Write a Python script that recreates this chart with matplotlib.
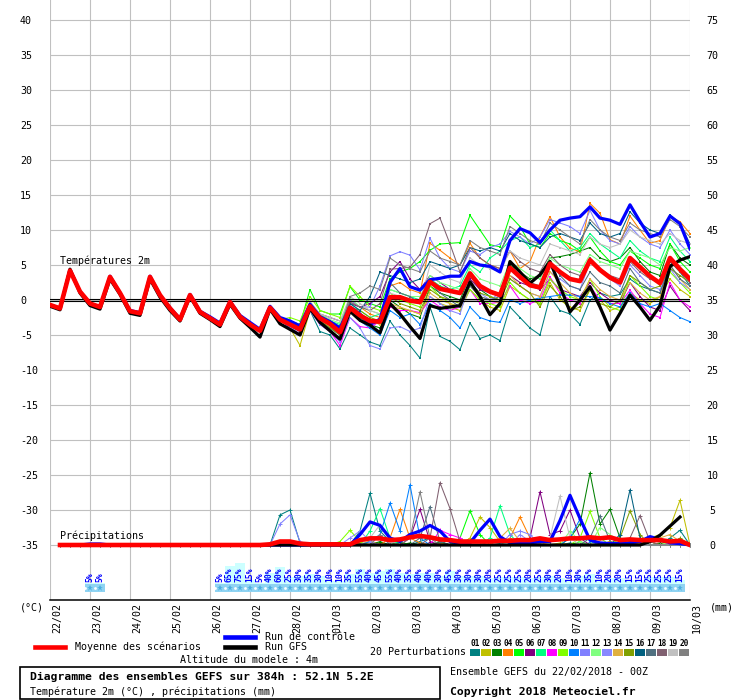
import numpy as np
import matplotlib
matplotlib.use('Agg')
import matplotlib.pyplot as plt
from matplotlib.transforms import ScaledTranslation
from matplotlib.patches import Rectangle
from matplotlib.lines import Line2D

plt.rcParams['font.family'] = ['DejaVu Sans Mono', 'DejaVu Sans']

# ---------------- data ----------------
dates = ['22/02', '23/02', '24/02', '25/02', '26/02', '27/02', '28/02', '01/03', '02/03',
         '03/03', '04/03', '05/03', '06/03', '07/03', '08/03', '09/03', '10/03']

mean_t = [-0.7, -1.2, 4.2, 1.2, -0.5, -1.0, 3.3, 1.0, -1.6, -1.9,
          3.3, 0.7, -1.2, -2.8, 0.7, -1.7, -2.6, -3.5, -0.3, -2.4,
          -3.5, -4.4, -1.1, -2.8, -3.5, -4.2, -0.9, -2.6, -3.4, -4.6,
          -1.1, -2.2, -3.0, -3.1, 0.4, 0.4, -0.1, -0.3, 2.6, 1.6,
          1.3, 1.0, 3.8, 2.0, 1.2, 0.7, 4.6, 3.3, 2.1, 1.8,
          5.2, 4.0, 3.0, 2.7, 5.7, 4.3, 3.2, 2.5, 6.0, 4.7,
          3.4, 2.4, 6.0, 4.4, 3.0]
control_t = [-0.7, -1.2, 4.3, 1.2, -0.5, -1.0, 3.4, 1.0, -1.5, -1.8,
             3.4, 0.7, -1.1, -2.7, 0.8, -1.6, -2.4, -3.3, -0.2, -2.2,
             -3.2, -4.2, -0.9, -2.5, -3.0, -3.7, -0.6, -2.4, -3.1, -4.0,
             -1.0, -2.0, -3.5, -2.8, 2.5, 4.5, 1.9, 1.4, 2.9, 3.1,
             3.4, 3.4, 5.5, 5.0, 4.8, 4.0, 8.5, 10.2, 9.6, 8.2,
             10.0, 11.4, 11.7, 11.9, 13.3, 11.7, 11.4, 10.8, 13.6, 11.2,
             9.0, 9.5, 12.0, 10.9, 7.3]
gfs_t = [-0.9, -1.4, 4.4, 1.0, -0.8, -1.3, 3.0, 0.8, -1.9, -2.2,
         3.0, 0.4, -1.5, -3.0, 0.5, -1.9, -2.8, -3.8, -0.6, -2.6,
         -3.9, -5.3, -1.3, -3.4, -4.2, -5.0, -1.2, -3.2, -4.4, -5.6,
         -1.6, -2.9, -3.6, -4.7, -0.5, -2.0, -3.8, -5.5, -0.8, -1.2,
         -1.0, -0.8, 2.6, 0.5, -2.1, -0.5, 5.5, 4.0, 2.4, 3.6,
         5.5, 2.0, -1.7, 0.0, 1.9, -1.0, -4.3, -1.9, 0.7, -1.0,
         -2.9, -0.8, 4.8, 5.7, 6.2]

# members: common first 24 steps, individual from step 24 on
members_early_t = [-0.7, -1.2, 4.2, 1.2, -0.5, -1.0, 3.3, 1.0, -1.6, -1.9,
                   3.3, 0.7, -1.2, -2.8, 0.7, -1.7, -2.6, -3.5, -0.3, -2.4,
                   -3.5, -4.4, -1.1, -2.8]
t01 = [-3.8, -4.5, -1.5, -4.5, -5.0, -7.0, -4.0, -5.0, -6.0, -6.5, -3.0, -5.0, -6.5, -8.3, -1.0, -5.2, -5.9, -7.1, -3.3, -5.5, -5.0, -5.8, -1.0, -2.5, -4.0, -5.0, 0.5, -1.5, -2.0, -3.5, 0.0, 1.0, 0.5, 0.8, 3.0, 2.0, 1.5, 1.0, 5.5, 4.0, 2.0]
t02 = [-4.0, -6.5, -1.5, -3.0, -3.8, -5.0, -1.0, -2.0, -2.8, -3.5, -1.0, -1.2, -1.5, -2.0, 0.5, -0.5, -1.0, -1.5, 1.5, 0.0, -1.0, -1.5, 2.0, 1.0, 0.0, -0.5, 2.5, 0.0, -1.0, -1.5, 1.5, 0.0, -1.5, -1.0, 1.0, 0.0, -0.5, 0.5, 3.0, 1.5, 0.5]
t03 = [-3.5, -4.5, -1.0, -2.5, -3.5, -5.0, -1.5, -3.0, -3.5, -4.0, 0.0, -1.0, -2.0, -2.5, 2.0, 1.0, 0.5, 0.0, 3.5, 1.5, 0.5, 0.0, 5.0, 4.0, 3.0, 3.5, 6.0, 6.2, 6.5, 7.0, 7.5, 6.0, 5.5, 6.0, 7.5, 5.5, 4.0, 3.5, 8.0, 6.0, 5.0]
t04 = [-3.0, -4.0, -0.5, -2.0, -3.0, -4.0, 0.0, -1.0, -2.0, -2.5, 2.0, 2.5, 1.5, 1.0, 8.1, 7.1, 6.0, 5.0, 8.1, 6.0, 5.0, 4.5, 7.0, 4.5, 5.5, 9.0, 11.9, 9.0, 7.4, 6.9, 13.8, 12.4, 8.6, 8.0, 12.0, 10.0, 8.1, 8.5, 11.9, 11.2, 9.5]
t05 = [-3.0, -3.5, 1.5, -1.5, -2.0, -2.0, 1.9, 0.0, -0.5, -1.0, 3.0, 4.0, 4.5, 5.5, 7.1, 8.0, 8.1, 8.2, 12.1, 10.0, 7.9, 7.6, 12.0, 10.5, 8.0, 7.5, 9.5, 8.5, 8.0, 7.0, 9.0, 7.0, 5.5, 5.0, 7.0, 6.0, 5.0, 4.5, 8.0, 5.5, 4.0]
t06 = [-3.5, -4.5, -0.5, -2.0, -2.5, -3.0, -0.5, -1.0, -0.5, 0.5, 4.0, 5.5, 3.0, 1.5, 3.5, 2.5, 1.5, 1.0, 3.0, 1.5, 1.0, 0.5, 3.5, 2.5, 2.0, 1.5, 3.0, 1.5, 1.0, 0.5, 2.5, 1.0, 0.0, -0.5, 2.5, 0.5, -1.0, -1.5, 2.0, 0.0, -1.5]
t07 = [-3.0, -4.0, -0.5, -2.5, -3.0, -3.5, -0.5, -1.5, -2.5, -2.0, 1.5, 1.0, 0.5, 0.0, 3.0, 2.0, 1.5, 2.0, 5.0, 4.0, 6.0, 7.0, 8.5, 9.0, 7.5, 8.0, 10.0, 8.5, 7.0, 7.5, 9.5, 8.0, 7.0, 6.0, 8.5, 7.0, 6.0, 5.5, 9.0, 7.0, 5.5]
t08 = [-4.0, -4.8, -1.5, -3.5, -4.5, -6.5, -2.5, -3.8, -4.0, -3.0, -1.0, -1.5, -1.5, -1.8, 0.0, -1.0, -1.5, -1.0, 1.5, -0.5, -0.5, -0.3, 2.0, 0.0, -0.5, 0.0, 3.3, 1.0, 0.0, -0.5, 2.0, 0.0, -0.5, -0.5, 1.4, -0.5, -2.0, -2.5, 2.5, 0.0, -1.0]
t09 = [-2.5, -3.0, 0.5, -1.5, -2.0, -2.5, 2.0, 0.5, -1.0, -1.5, 1.0, 0.0, -0.5, -1.0, 2.0, 0.5, -0.5, -1.0, 1.5, 0.0, -0.5, -1.0, 2.5, 1.0, 0.0, -0.5, 3.0, 1.5, 0.5, 0.0, 3.0, 0.5, -1.0, -1.5, 3.5, 2.0, 0.5, 0.0, 4.0, 2.5, 1.0]
t10 = [-4.0, -5.0, -1.0, -3.0, -4.0, -5.0, -1.5, -3.0, -4.0, -5.0, -1.5, -2.5, -2.0, -3.5, -0.5, -1.5, -2.5, -4.0, -1.0, -2.5, -3.0, -3.2, 0.0, -0.5, 0.0, 0.3, 0.5, 0.7, 0.7, 0.5, 0.5, 0.3, -0.5, -1.0, 1.0, -0.5, -1.0, -0.5, -1.5, -2.5, -3.1]
t11 = [-3.5, -4.0, -0.5, -2.5, -3.0, -4.0, 0.0, -1.0, -1.0, 2.0, 6.3, 6.9, 6.4, 4.3, 8.8, 6.0, 4.5, 4.0, 7.0, 6.5, 7.5, 8.0, 9.8, 9.0, 8.0, 9.0, 11.5, 11.0, 10.5, 9.5, 12.8, 10.0, 8.5, 8.0, 10.5, 9.0, 8.0, 7.5, 10.0, 8.0, 6.5]
t12 = [-3.0, -3.8, -0.3, -2.0, -2.8, -3.3, 0.3, -1.0, -1.5, -2.0, 1.5, 1.0, 0.5, 0.5, 3.5, 2.5, 2.0, 1.5, 4.5, 3.0, 2.5, 2.0, 5.5, 4.5, 3.5, 3.0, 6.0, 5.0, 4.5, 4.0, 6.5, 5.5, 5.0, 4.5, 7.0, 6.5, 6.0, 5.0, 7.5, 7.0, 7.5]
t13 = [-3.8, -5.0, -1.5, -3.5, -4.5, -6.0, -2.5, -4.0, -6.5, -7.0, -4.0, -3.8, -4.5, -4.0, 0.5, -0.5, -1.5, -2.0, 2.5, 1.0, 0.0, 1.0, 3.0, 2.0, 1.0, 0.5, 4.0, 3.0, 2.0, 1.5, 5.5, 4.5, 3.0, 2.0, 5.0, 3.5, 2.0, 1.5, 4.5, 2.5, 1.5]
t14 = [-3.2, -4.0, -0.8, -2.8, -3.8, -4.5, -1.0, -2.0, -3.0, -3.5, -0.5, -1.0, -1.5, -2.0, 1.0, 0.0, -0.5, -1.0, 2.0, 0.5, 0.0, -0.5, 3.5, 2.0, 1.0, 0.5, 4.0, 2.5, 1.0, 0.0, 3.0, 1.5, 0.5, 0.0, 2.5, 1.0, 0.0, 0.5, 5.0, 3.0, 1.5]
t15 = [-3.5, -4.5, -1.2, -3.0, -4.0, -5.0, -1.0, -1.5, -2.5, -3.0, 0.5, -0.5, -1.0, -1.5, 1.5, 0.5, 0.0, -0.5, 2.5, 1.0, 0.5, 0.0, 3.0, 2.0, 1.0, -1.0, 2.0, 0.5, -1.5, -1.0, 1.5, -0.5, -1.0, 0.0, 3.5, 2.5, 1.5, 2.0, 4.5, 3.5, 2.5]
t16 = [-3.3, -4.2, -0.7, -2.5, -3.2, -4.0, -0.5, -1.5, 0.5, 4.0, 3.5, 3.0, 2.5, 3.0, 5.5, 5.0, 4.5, 5.0, 7.5, 7.0, 7.5, 7.0, 9.5, 8.5, 8.0, 7.5, 9.0, 9.5, 9.0, 8.5, 11.0, 9.5, 9.0, 9.5, 12.6, 11.0, 10.0, 9.5, 12.1, 11.0, 8.0]
t17 = [-3.6, -4.4, -1.0, -2.8, -3.6, -4.8, -1.2, -2.5, -3.5, -2.5, 2.5, 1.0, 0.5, -0.5, 2.5, 1.0, 0.0, -1.0, 2.0, 0.5, 0.0, 0.5, 4.5, 3.0, 2.5, 2.0, 5.5, 3.5, 2.0, 1.5, 4.0, 2.5, 2.0, 1.0, 4.5, 2.5, 1.5, 1.0, 5.0, 3.0, 2.0]
t18 = [-3.4, -4.0, -0.6, -2.2, -3.0, -3.8, -0.3, -1.0, -1.5, -0.5, 4.4, 4.5, 4.7, 6.5, 10.9, 11.7, 8.0, 4.0, 7.5, 6.0, 5.0, 4.5, 7.0, 5.5, 4.5, 4.0, 6.5, 5.0, 4.0, 3.5, 6.0, 4.5, 3.5, 3.0, 5.5, 4.0, 3.0, 2.5, 6.0, 4.0, 2.5]
t19 = [-3.0, -3.5, -0.2, -2.0, -2.5, -3.0, 0.5, -0.5, -1.5, -2.0, 1.0, 0.5, 0.0, -0.5, 5.0, 4.0, 3.0, 2.5, 6.0, 5.0, 4.5, 4.0, 7.0, 6.0, 5.5, 5.0, 8.0, 7.5, 7.0, 6.5, 9.0, 8.0, 7.5, 8.0, 10.0, 9.0, 8.5, 8.0, 9.5, 8.5, 8.0]
t20 = [-3.5, -4.2, -0.8, -2.4, -3.2, -4.2, 0.5, 1.0, 2.0, 1.5, 6.0, 5.0, 4.5, 4.0, 7.0, 6.0, 5.5, 5.0, 8.5, 7.5, 7.0, 6.5, 10.5, 9.5, 8.5, 8.0, 11.0, 10.0, 9.0, 8.0, 11.5, 10.0, 9.0, 8.5, 11.0, 10.0, 9.5, 9.0, 11.5, 10.5, 9.0]

# precipitation (mm), from step 1
mean_p = [0.0] * 21 + [0.1, 0.5, 0.5, 0.2, 0.1, 0.1, 0.1, 0.1, 0.1, 0.7, 0.95, 0.95, 0.7, 0.8, 1.1,
                       1.3, 1.1, 0.8, 0.7, 0.5, 0.5, 0.5, 0.5, 0.6, 0.6, 0.7, 0.7, 0.95, 0.7, 0.8,
                       0.95, 0.95, 1.1, 0.95, 1.1, 0.7, 0.8, 0.7, 0.7, 0.7, 0.5, 0.6, 0.0]
control_p = [0.0, 0.0, 0.0, 0.15, 0.15] + [0.0] * 25 + [1.5, 3.3, 2.8, 1.0, 0.5, 1.5, 2.0, 2.8, 2.0, 0.5,
                                                     0.2, 0.3, 2.1, 3.7, 1.2, 0.3, 0.2, 0.3, 0.5, 0.5,
                                                     3.5, 7.1, 3.8, 0.7, 0.3, 0.2, 0.2, 0.3, 0.5, 1.2,
                                                     0.8, 0.3, 0.2, 0.0]
gfs_p = [0.0] * 59 + [0.5, 1.4, 2.7, 4.0]

members_early_p = [0.0] * 20
p01 = [0, 0, 4.3, 5.0, 0.3, 0, 0, 0, 0, 0, 2.0, 7.4, 2.0, 0.5, 0, 0, 0.5, 1.0, 0.5, 0, 0, 0, 0, 0.5, 0.2, 0, 0, 0, 0, 0, 0, 0.3, 0, 0, 0, 0, 0, 0, 0, 0.5, 0, 1.0, 2.1, 0]
p02 = [0, 0, 0, 0, 0, 0, 0, 0, 0, 0, 0, 0.5, 0.2, 0, 0, 0, 0, 0, 0.3, 0, 0, 1.0, 4.0, 2.5, 0.5, 0.3, 0, 0, 0, 0, 0.3, 0, 0, 0, 0, 0.5, 0, 0.5, 0.5, 1.0, 1.5, 2.5, 6.4, 0]
p03 = [0, 0, 0, 0, 0, 0, 0, 0, 0, 0, 0, 0, 0.5, 0, 0, 0.3, 0, 0, 0.5, 0, 0, 0, 0, 0, 0, 0, 0.3, 0, 0, 0, 0, 1.0, 3.0, 10.3, 3.0, 5.1, 1.0, 0.5, 0, 0, 0.3, 0, 0, 0]
p04 = [0, 0, 0, 0, 0, 0, 0, 0, 0, 0, 0.3, 0.5, 0, 1.0, 5.1, 1.0, 0.3, 0, 0, 0, 0, 0, 0, 0, 0, 1.0, 4.0, 1.0, 0.3, 0, 0, 0, 0, 0, 0, 0.5, 0, 0, 0.3, 0.5, 0, 0.5, 0, 0]
p05 = [0, 0, 0, 0, 0, 0, 0, 0, 0, 0, 0, 0, 0, 0, 0.5, 0, 0, 0, 0, 0, 1.0, 4.9, 1.5, 0, 0, 0, 0.5, 0, 0, 0, 0, 0, 0.5, 0, 0, 0, 0, 0, 0, 0, 0, 0, 0, 0]
p06 = [0, 0, 0, 0, 0, 0, 0, 0, 0, 0, 0, 0, 0, 0, 0, 1.0, 5.1, 0.5, 0, 0, 0, 0, 0, 0, 0, 0, 0, 1.0, 7.6, 1.5, 2.0, 5.0, 1.0, 0, 0, 0, 0, 0, 0, 0, 0, 0, 0, 0]
p07 = [0, 0, 0, 0, 0, 0, 0, 0, 0, 0, 0, 2.0, 5.2, 1.0, 0, 0, 0, 0, 0, 0, 0, 0, 0, 1.0, 5.6, 1.5, 0, 0, 0, 0, 0, 0, 0, 0, 0, 0, 0, 0, 0, 0, 0, 0, 0, 0]
p08 = [0, 0, 0, 0, 0, 0, 0, 0, 0, 0, 0, 0, 0, 0, 0, 0, 0, 0, 2.1, 1.5, 1.0, 0, 0, 0, 0, 0, 0, 0.5, 0, 0, 0, 0, 0, 0, 0, 0, 0, 0, 0, 0, 0, 0, 0, 0]
p09 = [0, 0, 0, 0, 0, 0, 0, 0, 0.5, 2.1, 0.5, 0, 0, 0, 0, 0, 0, 0, 0, 0, 0, 0, 0, 0, 0, 0, 0, 0, 0, 0, 0, 0, 1.0, 4.8, 1.0, 0, 0, 0, 0, 0, 0, 0, 0, 0]
p10 = [0, 0, 0, 0, 0, 0, 0, 0, 0, 0, 0, 0.5, 1.5, 6.0, 2.0, 8.6, 1.0, 0, 0, 0, 0, 0, 0, 0, 0, 0, 0, 0, 0, 0, 0, 1.0, 3.7, 0.5, 0, 0, 0, 0, 0, 0, 0, 0, 0, 0]
p11 = [0, 0, 3.0, 4.3, 0.5, 0, 0, 0, 0, 0, 0, 0, 1.5, 0, 0, 0, 0, 0, 0, 0, 0, 0, 0, 0, 0, 1.5, 2.0, 1.5, 0, 0, 0, 0, 0, 0, 0, 0, 0, 0, 0, 0, 0, 0, 0, 0]
p12 = [0, 0, 0, 0, 0, 0, 0, 0, 0, 0, 0, 0, 0, 0, 0, 0, 0, 0, 0, 0, 0, 0, 0, 0, 0, 0, 0, 0, 0, 0, 0, 2.0, 0.5, 0, 2.5, 1.5, 0, 0, 0, 0, 0, 0.5, 0, 0]
p13 = [0, 0, 0, 0, 0, 0, 0, 0, 0, 1.0, 2.0, 0.5, 0, 0, 0, 0, 0, 0, 0, 0, 0, 0, 0, 0, 0, 0, 1.5, 0.5, 0, 0, 0, 0, 0, 0, 0, 0, 0, 0, 0, 0, 0, 0, 0, 0]
p14 = [0, 0, 0, 0, 0, 0, 0, 0, 0, 0, 0, 0, 0, 0, 0, 0, 0, 0, 0, 0, 0, 0, 0, 0, 1.0, 2.4, 0.5, 0, 0, 0, 0, 0, 0, 0, 0, 0, 0, 0, 0, 0.5, 1.0, 1.5, 0.5, 0]
p15 = [0, 0, 0, 0, 0, 0, 0, 0, 0, 0, 0, 0, 0, 0, 0, 0, 0, 0, 0, 0, 0, 0, 0, 0, 0, 0, 0, 0, 0, 0, 0, 0, 0, 0, 0, 0, 1.0, 4.9, 1.5, 0, 0, 0, 1.0, 0]
p16 = [0, 0, 0, 0, 0, 0, 0, 0, 0, 0, 0, 0, 0, 0, 0, 0, 0, 0, 0, 0, 0, 0, 0, 0, 0, 0, 0, 0, 0, 0, 0, 0, 0, 0, 0, 0, 1.5, 7.9, 1.0, 0, 0, 0, 0, 0]
p17 = [0, 0, 0, 0, 0, 0, 0, 0, 0, 0, 0, 0, 0, 0, 0, 0, 1.0, 5.5, 0.5, 0, 0, 0, 0, 0, 0, 0, 0, 0, 0, 0, 0, 0, 0, 1.0, 4.2, 0.5, 0, 0, 0, 0, 0, 0, 0, 0]
p18 = [0, 0, 0, 0, 0, 0, 0, 0, 0, 0, 0, 0, 0, 0, 0, 0, 0, 1.0, 8.9, 5.2, 0.5, 0, 0, 0, 0, 0, 0, 0, 0, 0, 0, 0, 0, 0, 0, 0, 0, 1.0, 4.2, 0.5, 0, 0, 0, 0]
p19 = [0, 0, 0, 0, 0, 0, 0, 0, 0, 0, 0, 1.0, 2.9, 0.5, 0, 0, 0, 0, 0, 0, 0, 0, 0, 0, 0, 0, 0, 0, 0, 1.0, 7.0, 1.0, 0, 0, 0, 0, 0, 0, 0, 0, 0, 0, 0, 0]
p20 = [0, 0, 0, 0, 0, 0, 0, 0, 0, 0, 0, 0, 1.5, 0, 0, 1.0, 7.6, 1.0, 0, 0, 0, 0, 0, 0, 0, 0, 0, 0, 0, 0, 0, 0, 0, 0, 0, 0, 0, 0, 0, 0, 0, 0, 0, 0]

member_colors = ['#008080', '#c0c000', '#008000', '#ff8000', '#00ff00', '#800080', '#00ff80',
                 '#ff00ff', '#80ff00', '#0080ff', '#8080ff', '#80ff80', '#8888ff', '#e0b040',
                 '#80a000', '#006080', '#507080', '#806070', '#c0c0c0', '#808080']
member_labels = ['01', '02', '03', '04', '05', '06', '07', '08', '09', '10',
                 '11', '12', '13', '14', '15', '16', '17', '18', '19', '20']

snow_steps = [4, 5] + list(range(17, 64))
snow_pct = [5, 5,
            5, 65, 75, 15, 5, 40, 60, 25, 30, 35, 30, 10, 10, 35, 55, 40,
            45, 55, 40, 35, 40, 40, 30, 45, 30, 30, 30, 20, 25, 25, 25, 20,
            25, 30, 20, 10, 30, 35, 10, 20, 20, 15, 15, 25, 25, 25, 15]

temps_late = [t01, t02, t03, t04, t05, t06, t07, t08, t09, t10,
              t11, t12, t13, t14, t15, t16, t17, t18, t19, t20]
precs_late = [p01, p02, p03, p04, p05, p06, p07, p08, p09, p10,
              p11, p12, p13, p14, p15, p16, p17, p18, p19, p20]

# ---------------- figure ----------------
W, H = 740, 700
fig = plt.figure(figsize=(W / 100, H / 100), dpi=100)
fig.patch.set_facecolor('white')


def fx(px):
    return px / W


def fy(py):
    return 1 - py / H


ax = fig.add_axes([fx(50), fy(600), fx(690) - fx(50), fy(0) - fy(600)])
ax.set_xlim(0, 64)
ax.set_ylim(-300 / 7, 300 / 7)
ax2 = ax.twinx()
ax2.set_ylim(-300 / 7 + 35, 300 / 7 + 35)

for a in (ax, ax2):
    for s in ('left', 'right', 'top'):
        a.spines[s].set_visible(False)
ax.spines['bottom'].set_color('black')
ax.spines['bottom'].set_linewidth(1.1)
ax2.spines['bottom'].set_visible(False)

FS = 7.2
ax.set_yticks(np.arange(-35, 41, 5))
ax.set_yticklabels([str(v) for v in range(-35, 41, 5)])
ax.tick_params(axis='y', length=0, pad=30 * 0.72, labelsize=FS)
for t in ax.get_yticklabels():
    t.set_horizontalalignment('left')
ax2.set_yticks(np.arange(0, 76, 5))
ax2.set_yticklabels([str(v) for v in range(0, 76, 5)])
ax2.tick_params(axis='y', length=0, pad=22.5 * 0.72, labelsize=FS)
for t in ax2.get_yticklabels():
    t.set_horizontalalignment('center')

ax.set_xticks(np.arange(0, 65, 4))
ax.set_xticklabels(dates, rotation=90, fontsize=FS, va='top', ha='center')
ax.tick_params(axis='x', length=0, pad=2)
off = ScaledTranslation(7 / 100, 0, fig.dpi_scale_trans)
for t in ax.get_xticklabels():
    t.set_transform(t.get_transform() + off)

ax.grid(True, color='#c0c0c0', linewidth=0.8, zorder=0)
ax.set_axisbelow(True)

steps = np.arange(65)

# members temperatures
for vals_late, c in zip(temps_late, member_colors):
    vals = members_early_t + vals_late
    ax.plot(steps[:len(vals)], vals, color=c, lw=0.75, marker='s', ms=1.6, mew=0, zorder=2)

ax.axhline(0.2, color='black', lw=0.8, zorder=3)
ax.axhline(-0.2, color='black', lw=0.8, zorder=3)

ax.plot(steps, control_t, color='#0000ff', lw=2.3, zorder=4, solid_joinstyle='round')
ax.plot(steps, gfs_t, color='black', lw=2.3, zorder=5, solid_joinstyle='round')
ax.plot(steps, mean_t, color='#ff0000', lw=3.3, zorder=6, solid_joinstyle='round')

# precipitation (right axis)
for vals_late, c in zip(precs_late, member_colors):
    vals = members_early_p + vals_late
    xs = np.arange(1, 1 + len(vals))
    ax2.plot(xs, vals, color=c, lw=0.75, marker='+', ms=3.2, mew=0.7, zorder=2)
ax2.plot(np.arange(1, 1 + len(control_p)), control_p, color='#0000ff', lw=2.3, zorder=4)
ax2.plot(np.arange(1, 1 + len(gfs_p)), gfs_p, color='black', lw=2.3, zorder=5)
ax2.plot(np.arange(1, 1 + len(mean_p)), mean_p, color='#ff0000', lw=3.3, zorder=6)

# snow probability row
bar_bottom = (300 - 584) / 7
for k, p in zip(snow_steps, snow_pct):
    h = p * 0.28 / 7
    ax.add_patch(Rectangle((k - 0.5, bar_bottom), 1.0, h, facecolor='#ccffff',
                           edgecolor='none', zorder=1))
    ax.text(k - 0.05, (300 - 582) / 7, f'{p}%', rotation=90, color='#0000ff',
            fontsize=5.8, fontweight='bold', ha='center', va='bottom', zorder=3)
    ax.add_patch(Rectangle((k - 0.5, (300 - 592) / 7), 1.0, 8 / 7, facecolor='#8fd3f2',
                           edgecolor='none', zorder=1))
    ax.plot([k], [(300 - 588) / 7], marker='*', ms=5, color='#4aaee0', mew=0, zorder=2)
    ax.plot([k - 0.5], [(300 - 588) / 7], marker='o', ms=2, color='white', mew=0, zorder=2)

ax.text(1, (300 - 261) / 7, 'Températures 2m', fontsize=FS, ha='left', va='center', zorder=8)
ax.text(1, (300 - 536) / 7, 'Précipitations', fontsize=FS, ha='left', va='center', zorder=8)

# ---------------- texts around ----------------
fig.text(fx(20), fy(607), '(°C)', fontsize=FS, ha='left', va='center')
fig.text(fx(710), fy(607), '(mm)', fontsize=FS, ha='left', va='center')

fig.add_artist(Line2D([fx(35), fx(65)], [fy(647), fy(647)], color='#ff0000', lw=3.3))
fig.text(fx(75), fy(647), 'Moyenne des scénarios', fontsize=FS, ha='left', va='center')
fig.add_artist(Line2D([fx(225), fx(255)], [fy(637), fy(637)], color='#0000ff', lw=3.3))
fig.text(fx(265), fy(637), 'Run de contrôle', fontsize=FS, ha='left', va='center')
fig.add_artist(Line2D([fx(225), fx(255)], [fy(647), fy(647)], color='black', lw=3.3))
fig.text(fx(265), fy(647), 'Run GFS', fontsize=FS, ha='left', va='center')
fig.text(fx(180), fy(660), 'Altitude du modele : 4m', fontsize=FS, ha='left', va='center')

fig.text(fx(370), fy(652), '20 Perturbations', fontsize=FS, ha='left', va='center')
for i, (lab, c) in enumerate(zip(member_labels, member_colors)):
    x0 = 470 + 11 * i
    fig.add_artist(Rectangle((fx(x0), fy(656)), 10 / W, 7 / H, facecolor=c,
                             edgecolor='none', transform=fig.transFigure))
    fig.text(fx(x0 + 5), fy(643), lab, fontsize=5.6, fontweight='bold',
             ha='center', va='center')

fig.add_artist(Rectangle((fx(20), fy(699)), 420 / W, 32 / H, facecolor='none',
                         edgecolor='black', lw=1.2, transform=fig.transFigure))
fig.text(fx(30), fy(677), 'Diagramme des ensembles GEFS sur 384h : 52.1N 5.2E',
         fontsize=8.2, fontweight='bold', ha='left', va='center')
fig.text(fx(30), fy(692), 'Température 2m (°C) , précipitations (mm)',
         fontsize=FS, ha='left', va='center')
fig.text(fx(450), fy(672), 'Ensemble GEFS du 22/02/2018 - 00Z', fontsize=FS,
         ha='left', va='center')
fig.text(fx(450), fy(692), 'Copyright 2018 Meteociel.fr', fontsize=8.2,
         fontweight='bold', ha='left', va='center')

fig.savefig('out.png', dpi=100)
